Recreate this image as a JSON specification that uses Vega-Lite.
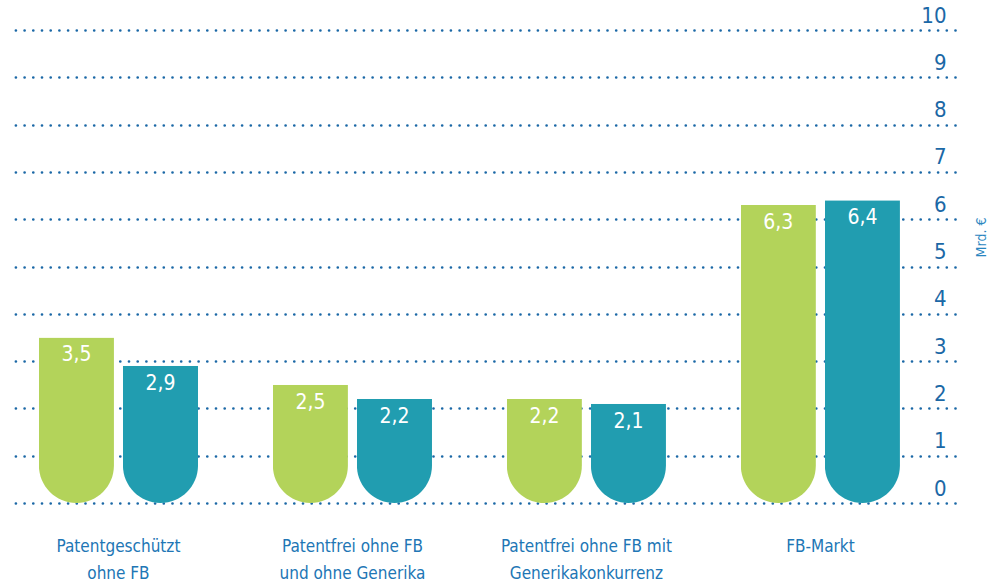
{
  "$schema": "https://vega.github.io/schema/vega-lite/v6.json",
  "autosize": "none",
  "width": 942,
  "height": 473,
  "padding": {"left": 13, "top": 30, "right": 35, "bottom": 84},
  "background": "white",
  "config": {
    "view": {"stroke": null},
    "locale": {"number": {"decimal": ",", "thousands": ".", "grouping": [3], "currency": ["", " €"]}},
    "font": "DejaVu Sans Condensed, Liberation Sans Narrow, DejaVu Sans"
  },
  "data": {
    "values": [
      {"kategorie": "Patentgeschützt|ohne FB", "reihe": "Reihe 1", "wert": 3.5},
      {"kategorie": "Patentgeschützt|ohne FB", "reihe": "Reihe 2", "wert": 2.9},
      {"kategorie": "Patentfrei ohne FB|und ohne Generika", "reihe": "Reihe 1", "wert": 2.5},
      {"kategorie": "Patentfrei ohne FB|und ohne Generika", "reihe": "Reihe 2", "wert": 2.2},
      {"kategorie": "Patentfrei ohne FB mit|Generikakonkurrenz", "reihe": "Reihe 1", "wert": 2.2},
      {"kategorie": "Patentfrei ohne FB mit|Generikakonkurrenz", "reihe": "Reihe 2", "wert": 2.1},
      {"kategorie": "FB-Markt", "reihe": "Reihe 1", "wert": 6.3},
      {"kategorie": "FB-Markt", "reihe": "Reihe 2", "wert": 6.4}
    ]
  },
  "encoding": {
    "x": {
      "field": "kategorie",
      "type": "nominal",
      "sort": null,
      "scale": {"paddingInner": 0.32, "paddingOuter": 0.173, "align": 0.32},
      "axis": {
        "title": null,
        "labelAngle": 0,
        "domain": false,
        "ticks": false,
        "labelPadding": 35,
        "labelExpr": "split(datum.label, '|')",
        "labelLineHeight": 27,
        "labelFontSize": 17,
        "labelColor": "#2176b5",
        "labelAlign": "center"
      }
    },
    "xOffset": {
      "field": "reihe",
      "type": "nominal",
      "scale": {"paddingInner": 0.107, "paddingOuter": 0}
    },
    "y": {
      "field": "wert",
      "type": "quantitative",
      "scale": {"domain": [0, 10], "nice": false},
      "axis": {
        "orient": "right",
        "values": [0, 1, 2, 3, 4, 5, 6, 7, 8, 9, 10],
        "domain": false,
        "ticks": false,
        "labelPadding": -9,
        "labelAlign": "right",
        "labelBaseline": "bottom",
        "labelOffset": -3,
        "labelFontSize": 22,
        "labelColor": "#1b68a6",
        "grid": true,
        "gridColor": "#1b68a6",
        "gridDash": [0, 8.7],
        "gridCap": "round",
        "gridWidth": 2.7,
        "title": "Mrd. €",
        "titleAngle": 270,
        "titleFontWeight": "normal",
        "titleFontSize": 14,
        "titleColor": "#2a86c0",
        "titleX": 26,
        "titleY": 207,
        "titleAlign": "center",
        "titleBaseline": "middle"
      }
    }
  },
  "layer": [
    {
      "mark": {"type": "bar", "cornerRadiusBottomLeft": 37.5, "cornerRadiusBottomRight": 37.5},
      "encoding": {
        "color": {
          "field": "reihe",
          "type": "nominal",
          "scale": {"domain": ["Reihe 1", "Reihe 2"], "range": ["#b3d35a", "#219db0"]},
          "legend": null
        }
      }
    },
    {
      "mark": {"type": "text", "baseline": "alphabetic", "dy": 24, "fontSize": 21, "color": "white"},
      "encoding": {
        "text": {"field": "wert", "type": "quantitative", "format": ".1f"}
      }
    }
  ]
}
